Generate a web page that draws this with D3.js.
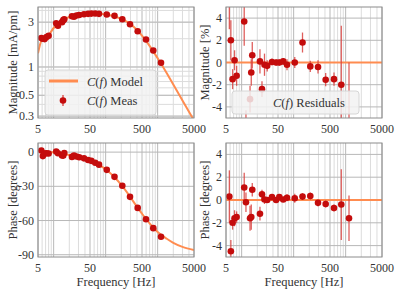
<!DOCTYPE html>
<html><head><meta charset="utf-8">
<script src="https://cdn.jsdelivr.net/npm/d3@7"></script>
<style>
body{margin:0;background:#fff}
svg{display:block}
text{font-family:"Liberation Serif","DejaVu Serif",serif;fill:#333}
</style>
</head><body>
<svg id="c" width="399" height="294"></svg>
<script>
// ---- data ----
const freq = [5.8, 6.2, 6.7, 7.3, 8.0, 11.2, 12.1, 14.5, 15.3, 16.0, 22.5, 24.6, 27.5, 31, 38.3, 46, 53, 63, 74.5, 105, 148, 209, 294, 413, 597, 824, 1160];
const magMeas = [2.03, 2.0, 1.98, 2.08, 2.15, 2.92, 2.75, 3.0, 3.15, 3.22, 3.47, 3.43, 3.53, 3.58, 3.64, 3.68, 3.7, 3.71, 3.68, 3.62, 3.5, 3.22, 2.85, 2.4, 1.96, 1.5, 1.11];
const phaseMeas = [1.4, -3.5, -1.25, -1.05, -1.2, 0.5, -1.0, -3.0, -3.05, -0.8, -4.2, -2.9, -3.85, -4.5, -5.45, -6.9, -7.65, -9.35, -11.0, -15.55, -21.7, -29.55, -39.25, -48.95, -58.9, -66.7, -74.2];
const magRes = [7.0, 2.0, -1.5, 0.2, -1.2, 3.7, -6.5, -3.3, -0.9, 0.65, 0.1, -2.4, -0.2, -0.3, 0.05, 0.0, 0.0, 0.1, -0.2, 0.0, 1.8, -0.35, -0.4, -1.55, -1.5, -2.0, -8.0];
const magResErr = [4.0, 1.8, 0.9, 0.9, 0.9, 2.2, 2.2, 1.2, 1.2, 1.2, 1.1, 0.7, 1.0, 0.5, 0.3, 0.3, 0.3, 0.3, 0.5, 0.5, 0.9, 0.5, 0.6, 0.6, 0.6, 5.3, 8.0];
const phaseRes = [0.3, -4.5, -2.0, -1.6, -1.5, 1.1, -0.2, -1.6, -1.5, 0.9, -1.2, 0.5, 0.05, 0.0, 0.25, 0.0, 0.25, 0.05, 0.2, 0.15, 0.3, 0.35, -0.25, -0.35, -0.7, -0.4, -1.6];
const phaseResErr = [2.3, 1.0, 0.6, 0.7, 0.5, 1.3, 0.85, 1.1, 1.1, 0.6, 0.6, 0.4, 0.4, 0.2, 0.2, 0.2, 0.2, 0.2, 0.3, 0.4, 0.3, 0.3, 0.3, 0.3, 0.3, 3.1, 2.0];

const modelFreq = [5, 5.5, 5.8, 6.2, 6.7, 7.3, 8, 10, 12, 15, 20, 30, 50, 70, 100, 150, 200, 300, 400, 500, 700, 1000, 1500, 2000, 3000, 5000];
const modelMag = [1.4, 1.75, 1.9, 1.96, 2.01, 2.07, 2.18, 2.6, 2.9, 3.15, 3.4, 3.58, 3.69, 3.7, 3.61, 3.44, 3.25, 2.86, 2.48, 2.16, 1.68, 1.24, 0.86, 0.65, 0.44, 0.27];
const modelPhase = [1.5, 1.2, 1.1, 1.0, 0.75, 0.55, 0.3, -0.3, -0.9, -1.5, -2.6, -4.3, -7.5, -10.5, -15.0, -22.3, -28.8, -39.6, -48.0, -54.0, -62.5, -70.0, -76.0, -79.6, -83.1, -85.8];

const xTicks = [5, 50, 500, 5000];
const magTicks = [0.3, 0.5, 1, 3];
const resTicks = [-4, -2, 0, 2, 4];
const phaseTicks = [0, -30, -60, -90];

// ---- style ----
const RED = "#c40c0c", ERR = "#d9423f", ORANGE = "#ff8c50";
const svg = d3.select("#c");

const panels = {
  tl: {x0: 38, x1: 194, y0: 7, y1: 118},
  tr: {x0: 226, x1: 382, y0: 7, y1: 118},
  bl: {x0: 38, x1: 194, y0: 143, y1: 257},
  br: {x0: 226, x1: 382, y0: 143, y1: 257}
};

const minorF = [];
[1, 10, 100, 1000].forEach(d => { for (let k = 1; k <= 9; k++) { const v = k * d; if (v >= 5 && v <= 5000) minorF.push(v); } });
const strongF = [5, 10, 50, 100, 500, 1000, 5000];

function setup(key, y, yTicks, yMinor, ylabel, showXLabel) {
  const p = panels[key];
  const x = d3.scaleLog().domain([5, 5000]).range([p.x0, p.x1]);
  const g = svg.append("g");
  g.append("rect").attr("x", p.x0).attr("y", p.y0).attr("width", p.x1 - p.x0).attr("height", p.y1 - p.y0).attr("fill", "#fff");
  // grid
  const gr = g.append("g");
  gr.selectAll("line.vx").data(minorF).join("line")
    .attr("x1", d => x(d)).attr("x2", d => x(d)).attr("y1", p.y0).attr("y2", p.y1)
    .attr("stroke", d => strongF.includes(d) ? "#b8b8b8" : "#dcdcdc").attr("stroke-width", 1);
  gr.selectAll("line.hy").data(yMinor).join("line")
    .attr("x1", p.x0).attr("x2", p.x1).attr("y1", d => y(d)).attr("y2", d => y(d))
    .attr("stroke", "#dcdcdc").attr("stroke-width", 1);
  gr.selectAll("line.hm").data(yTicks).join("line")
    .attr("x1", p.x0).attr("x2", p.x1).attr("y1", d => y(d)).attr("y2", d => y(d))
    .attr("stroke", "#b8b8b8").attr("stroke-width", 1);
  // axes labels
  g.selectAll("text.xt").data(xTicks).join("text")
    .attr("x", d => x(d)).attr("y", p.y1 + 15).attr("text-anchor", "middle")
    .attr("font-size", 12).text(d => d);
  g.selectAll("text.yt").data(yTicks).join("text")
    .attr("x", p.x0 - 4).attr("y", d => y(d) + 4).attr("text-anchor", "end")
    .attr("font-size", 12).text(d => String(d).replace("-", "-"));
  const cy = (p.y0 + p.y1) / 2;
  const lx = key[1] === "l" ? 13 : 205;
  g.append("text").attr("transform", `translate(${lx},${cy}) rotate(-90)`)
    .attr("text-anchor", "middle").attr("dy", "0.35em").attr("font-size", 12.5).text(ylabel);
  if (showXLabel) {
    g.append("text").attr("x", (p.x0 + p.x1) / 2).attr("y", p.y1 + 29).attr("text-anchor", "middle")
      .attr("font-size", 12.5).text("Frequency [Hz]");
  }
  // clip
  const cid = "clip-" + key;
  svg.append("clipPath").attr("id", cid).append("rect")
    .attr("x", p.x0).attr("y", p.y0).attr("width", p.x1 - p.x0).attr("height", p.y1 - p.y0);
  const plot = svg.append("g").attr("clip-path", `url(#${cid})`);
  const frame = () => svg.append("rect").attr("x", p.x0).attr("y", p.y0).attr("width", p.x1 - p.x0).attr("height", p.y1 - p.y0)
    .attr("fill", "none").attr("stroke", "#8c8c8c").attr("stroke-width", 1);
  return {x, y, p, plot, frame};
}

function minorLog(lo, hi) {
  const out = [];
  [0.1, 1, 10].forEach(d => { for (let k = 1; k <= 9; k++) { const v = +(k * d).toFixed(3); if (v >= lo && v <= hi) out.push(v); } });
  return out;
}

// ---- top-left magnitude ----
{
  const p = panels.tl;
  const y = d3.scaleLog().domain([0.2865, 4.35]).range([p.y1, p.y0]);
  const A = setup("tl", y, magTicks, minorLog(0.2865, 4.35), "Magnitude [mA/pm]", false);
  const line = d3.line().x(d => A.x(d[0])).y(d => y(d[1])).curve(d3.curveMonotoneX);
  A.plot.append("path").datum(modelFreq.map((f, i) => [f, modelMag[i]])).attr("d", line)
    .attr("fill", "none").attr("stroke", ORANGE).attr("stroke-width", 2);
  A.plot.selectAll("circle").data(freq).join("circle")
    .attr("cx", d => A.x(d)).attr("cy", (d, i) => y(magMeas[i])).attr("r", 3.3).attr("fill", RED);
  A.frame();
  // legend
  const lg = svg.append("g");
  lg.append("rect").attr("x", 45).attr("y", 70).attr("width", 111).attr("height", 45).attr("rx", 3)
    .attr("fill", "#f2f2f2").attr("fill-opacity", 0.85).attr("stroke", "#d6d6d6");
  lg.append("line").attr("x1", 49).attr("x2", 78).attr("y1", 81).attr("y2", 81).attr("stroke", ORANGE).attr("stroke-width", 3);
  lg.append("line").attr("x1", 63).attr("x2", 63).attr("y1", 95).attr("y2", 106).attr("stroke", ERR).attr("stroke-width", 1.3);
  lg.append("circle").attr("cx", 63).attr("cy", 100.5).attr("r", 3.3).attr("fill", RED);
  const t1 = lg.append("text").attr("x", 87).attr("y", 85.5).attr("font-size", 12.5);
  t1.append("tspan").attr("font-style", "italic").text("C");
  t1.append("tspan").text("(");
  t1.append("tspan").attr("font-style", "italic").text("f");
  t1.append("tspan").text(") Model");
  const t2 = lg.append("text").attr("x", 87).attr("y", 104.5).attr("font-size", 12.5);
  t2.append("tspan").attr("font-style", "italic").text("C");
  t2.append("tspan").text("(");
  t2.append("tspan").attr("font-style", "italic").text("f");
  t2.append("tspan").text(") Meas");
}

function residual(key, vals, errs, ylabel, showX, legend) {
  const p = panels[key];
  const y = d3.scaleLinear().domain([-5, 5]).range([p.y1, p.y0]);
  const A = setup(key, y, resTicks, [], ylabel, showX);
  A.plot.append("line").attr("x1", p.x0).attr("x2", p.x1).attr("y1", y(0)).attr("y2", y(0))
    .attr("stroke", ORANGE).attr("stroke-width", 2);
  A.plot.selectAll("line.eb").data(freq).join("line")
    .attr("x1", d => A.x(d)).attr("x2", d => A.x(d))
    .attr("y1", (d, i) => y(vals[i] - errs[i])).attr("y2", (d, i) => y(vals[i] + errs[i]))
    .attr("stroke", ERR).attr("stroke-width", 1.3).attr("stroke-opacity", 0.85);
  A.plot.selectAll("circle").data(freq).join("circle")
    .attr("cx", d => A.x(d)).attr("cy", (d, i) => y(vals[i])).attr("r", 3.3).attr("fill", RED);
  A.frame();
  if (legend) {
    const lg = svg.append("g");
    lg.append("rect").attr("x", 232).attr("y", 91).attr("width", 127).attr("height", 23).attr("rx", 3)
      .attr("fill", "#f2f2f2").attr("fill-opacity", 0.85).attr("stroke", "#d6d6d6");
    const t = lg.append("text").attr("x", 273).attr("y", 106.5).attr("font-size", 12.5);
    t.append("tspan").attr("font-style", "italic").text("C");
    t.append("tspan").text("(");
    t.append("tspan").attr("font-style", "italic").text("f");
    t.append("tspan").text(") Residuals");
  }
}

residual("tr", magRes, magResErr, "Magnitude [%]", false, true);

// ---- bottom-left phase ----
{
  const p = panels.bl;
  const y = d3.scaleLinear().domain([-92, 8]).range([p.y1, p.y0]);
  const A = setup("bl", y, phaseTicks, [], "Phase [degrees]", true);
  const line = d3.line().x(d => A.x(d[0])).y(d => y(d[1])).curve(d3.curveMonotoneX);
  A.plot.append("path").datum(modelFreq.map((f, i) => [f, modelPhase[i]])).attr("d", line)
    .attr("fill", "none").attr("stroke", ORANGE).attr("stroke-width", 2);
  A.plot.selectAll("circle").data(freq).join("circle")
    .attr("cx", d => A.x(d)).attr("cy", (d, i) => y(phaseMeas[i])).attr("r", 3.3).attr("fill", RED);
  A.frame();
}

residual("br", phaseRes, phaseResErr, "Phase [degrees]", true, false);
</script>
</body></html>
